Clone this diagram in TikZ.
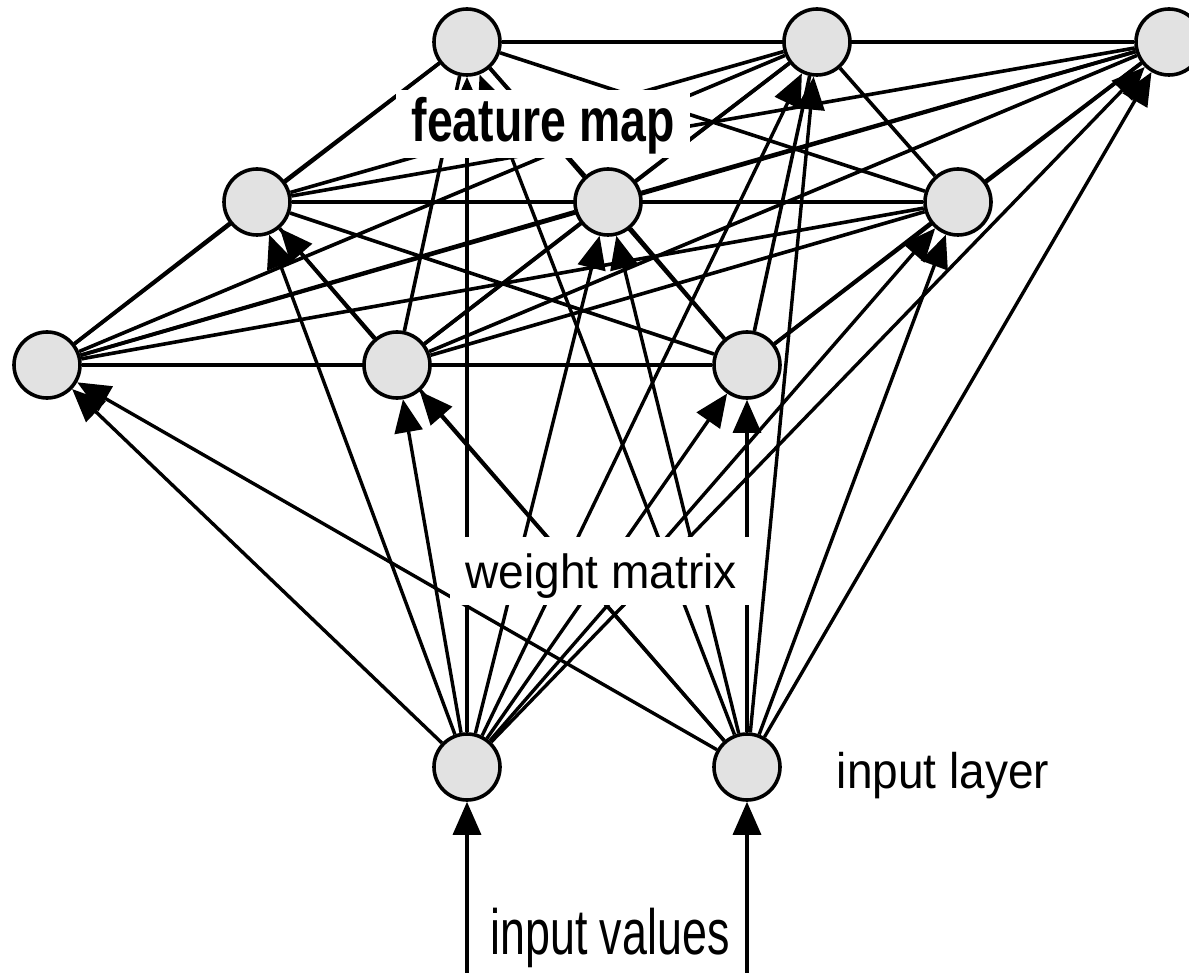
\documentclass[tikz,border=0pt]{standalone}
\usepackage{fontspec}
\setmainfont{Liberation Sans}
\usetikzlibrary{arrows.meta}
\pgfdeclarelayer{bg}
\pgfsetlayers{bg,main}
\definecolor{nfill}{RGB}{226,226,226}
\tikzset{
  neuron/.style={circle, draw=black, line width=3.6pt, fill=nfill, minimum size=66pt, inner sep=0pt},
  lat/.style={line width=3.6pt},
  inarr/.style={line width=3.4pt, -{Triangle[length=33pt,width=28pt]}},
  boxlbl/.style={anchor=base, fill=white, inner ysep=0pt},
  plainlbl/.style={anchor=base, inner sep=0pt}
}
\begin{document}
\begin{tikzpicture}[x=1pt,y=-1pt]
\useasboundingbox (0,0) rectangle (1189,973);
% feature map (3x3 grid in perspective)
\node[neuron] (m1) at (467,42) {};
\node[neuron] (m2) at (817,42) {};
\node[neuron] (m3) at (1169,42) {};
\node[neuron] (m4) at (257,202) {};
\node[neuron] (m5) at (608,202) {};
\node[neuron] (m6) at (958,202) {};
\node[neuron] (m7) at (47,365) {};
\node[neuron] (m8) at (397,365) {};
\node[neuron] (m9) at (747,365) {};
% input layer
\node[neuron] (i1) at (467,767) {};
\node[neuron] (i2) at (747,767) {};
\coordinate (b1) at (467,980);
\coordinate (b2) at (747,980);
% labels
\node[boxlbl, xscale=0.76, font=\bfseries\fontsize{61}{70}\selectfont,
      inner xsep=20pt, text height=52pt, text depth=16pt] (fm) at (543,142) {feature map};
\node[boxlbl, xscale=0.96, font=\fontsize{48}{58}\selectfont,
      inner xsep=16pt, text height=51pt, text depth=17pt] (wm) at (601,588) {weight matrix};
\node[plainlbl, xscale=0.92, font=\fontsize{50}{60}\selectfont] (il) at (943,788) {input layer};
\node[plainlbl, xscale=0.70, font=\fontsize{64}{76}\selectfont] (iv) at (610,954) {input values};
\begin{pgfonlayer}{bg}
  % lateral connections among all map neurons
  \foreach \i in {1,...,8}{
    \pgfmathtruncatemacro{\s}{\i+1}
    \foreach \j in {\s,...,9}{
      \draw[lat] (m\i) -- (m\j);
    }
  }
  % weights from each input to each map neuron
  \foreach \k in {1,2}{
    \foreach \j in {1,...,9}{
      \draw[inarr] (i\k) -- (m\j);
    }
  }
  \draw[inarr] (b1) -- (i1);
  \draw[inarr] (b2) -- (i2);
\end{pgfonlayer}
\end{tikzpicture}
\end{document}
